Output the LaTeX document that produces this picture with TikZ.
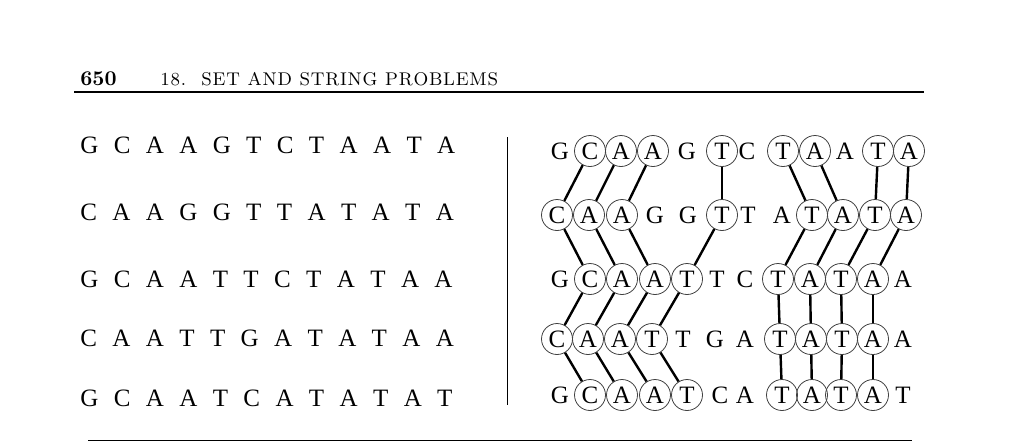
\documentclass[tikz,border=0pt]{standalone}
\usepackage{fontspec}
\newfontfamily\timesf{Liberation Serif}
\newcommand\sq{\hspace{7.7pt}}
\newcommand\lk{\kern0.4pt}
\newcommand\ws{\hspace{3.8pt}}
\tikzset{
  letter/.style={font=\timesf\fontsize{12.5}{14}\selectfont, inner sep=0pt, text height=8.2pt, text depth=0pt},
  plain/.style={letter},
  ring/.style={letter, circle, draw=black!75, line width=0.4pt, minimum size=15.5pt},
  link/.style={line width=1.2pt},
  rowtext/.style={font=\timesf\fontsize{12.5}{14}\selectfont, inner sep=0pt, anchor=base west},
  rule/.style={line width=0.7pt},
}
\newcommand\Pn[4]{\node[plain] (#1) at (#2,#3) {#4};}
\newcommand\Rn[4]{\node[ring] (#1) at (#2,#3) {#4};}
\begin{document}
\begin{tikzpicture}[x=0.5pt,y=-0.5pt]
\useasboundingbox (0,0) rectangle (1024,447);
% header
\node[anchor=base west, inner sep=0pt, font=\bfseries\fontsize{10.5}{12}\selectfont] (pg) at (80,85) {650};
\node[anchor=base west, inner sep=0pt, font=\fontsize{9.2}{10}\selectfont] (ttl) at (160,85)
  {1\lk 8\lk .\ws\ws S\lk E\lk T\ws A\lk N\lk D\ws S\lk T\lk R\lk I\lk N\lk G\ws P\lk R\lk O\lk B\lk L\lk E\lk M\lk S};
\coordinate (t1) at (74,92); \coordinate (t2) at (924,92);
\draw[rule] (t1) -- (t2);
\coordinate (b1) at (88,440); \coordinate (b2) at (912,440);
\draw[line width=0.5pt] (b1) -- (b2);
% divider
\coordinate (v1) at (507,137); \coordinate (v2) at (507,405);
\draw[line width=0.5pt] (v1) -- (v2);
% left rows
\node[rowtext] (l1) at (80,153) {G\sq C\sq A\sq A\sq G\sq T\sq C\sq T\sq A\sq A\sq T\sq A};
\node[rowtext] (l2) at (80,220) {C\sq A\sq A\sq G\sq G\sq T\sq T\sq A\sq T\sq A\sq T\sq A};
\node[rowtext] (l3) at (80,287) {G\sq C\sq A\sq A\sq T\sq T\sq C\sq T\sq A\sq T\sq A\sq A};
\node[rowtext] (l4) at (80,346) {C\sq A\sq A\sq T\sq T\sq G\sq A\sq T\sq A\sq T\sq A\sq A};
\node[rowtext] (l5) at (80,406) {G\sq C\sq A\sq A\sq T\sq C\sq A\sq T\sq A\sq T\sq A\sq T};
% right row 1
\Pn{r1c0}{560}{151}{G}\Rn{r1c1}{590}{151}{C}\Rn{r1c2}{621}{151}{A}\Rn{r1c3}{653}{151}{A}
\Pn{r1c4}{687}{151}{G}\Rn{r1c5}{722}{151}{T}\Pn{r1c6}{747}{151}{C}\Rn{r1c7}{783}{151}{T}
\Rn{r1c8}{815}{151}{A}\Pn{r1c9}{845}{151}{A}\Rn{r1c10}{878}{151}{T}\Rn{r1c11}{909}{151}{A}
% right row 2
\Rn{r2c0}{557}{215}{C}\Rn{r2c1}{589}{215}{A}\Rn{r2c2}{622}{215}{A}\Pn{r2c3}{655}{215}{G}
\Pn{r2c4}{688}{215}{G}\Rn{r2c5}{722}{215}{T}\Pn{r2c6}{748}{215}{T}\Pn{r2c7}{782}{215}{A}
\Rn{r2c8}{812}{215}{T}\Rn{r2c9}{843}{215}{A}\Rn{r2c10}{875}{215}{T}\Rn{r2c11}{906}{215}{A}
% right row 3
\Pn{r3c0}{560}{279}{G}\Rn{r3c1}{590}{279}{C}\Rn{r3c2}{622}{279}{A}\Rn{r3c3}{655}{279}{A}
\Rn{r3c4}{687}{279}{T}\Pn{r3c5}{717}{279}{T}\Pn{r3c6}{745}{279}{C}\Rn{r3c7}{778}{279}{T}
\Rn{r3c8}{810}{279}{A}\Rn{r3c9}{841}{279}{T}\Rn{r3c10}{873}{279}{A}\Pn{r3c11}{903}{279}{A}
% right row 4
\Rn{r4c0}{557}{339}{C}\Rn{r4c1}{588}{339}{A}\Rn{r4c2}{620}{339}{A}\Rn{r4c3}{652}{339}{T}
\Pn{r4c4}{683}{339}{T}\Pn{r4c5}{715}{339}{G}\Pn{r4c6}{745}{339}{A}\Rn{r4c7}{780}{339}{T}
\Rn{r4c8}{811}{339}{A}\Rn{r4c9}{842}{339}{T}\Rn{r4c10}{873}{339}{A}\Pn{r4c11}{903}{339}{A}
% right row 5
\Pn{r5c0}{560}{395}{G}\Rn{r5c1}{590}{395}{C}\Rn{r5c2}{622}{395}{A}\Rn{r5c3}{655}{395}{A}
\Rn{r5c4}{687}{395}{T}\Pn{r5c5}{720}{395}{C}\Pn{r5c6}{745}{395}{A}\Rn{r5c7}{782}{395}{T}
\Rn{r5c8}{812}{395}{A}\Rn{r5c9}{841}{395}{T}\Rn{r5c10}{873}{395}{A}\Pn{r5c11}{903}{395}{T}
% links
\foreach \a/\b in {r1c1/r2c0, r1c2/r2c1, r1c3/r2c2, r1c5/r2c5, r1c7/r2c8, r1c8/r2c9, r1c10/r2c10, r1c11/r2c11,
  r2c0/r3c1, r2c1/r3c2, r2c2/r3c3, r2c5/r3c4, r2c8/r3c7, r2c9/r3c8, r2c10/r3c9, r2c11/r3c10,
  r3c1/r4c0, r3c2/r4c1, r3c3/r4c2, r3c4/r4c3, r3c7/r4c7, r3c8/r4c8, r3c9/r4c9, r3c10/r4c10,
  r4c0/r5c1, r4c1/r5c2, r4c2/r5c3, r4c3/r5c4, r4c7/r5c7, r4c8/r5c8, r4c9/r5c9, r4c10/r5c10}
  \draw[link] (\a) -- (\b);
\end{tikzpicture}
\end{document}
